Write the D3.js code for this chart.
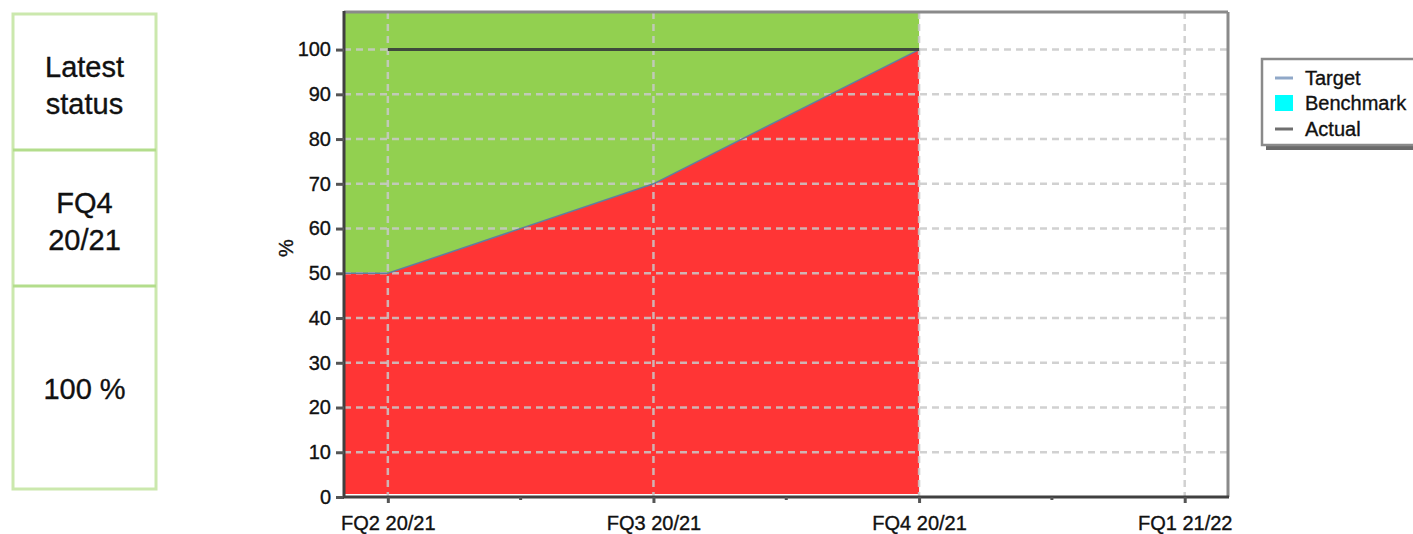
<!DOCTYPE html>
<html>
<head>
<meta charset="utf-8">
<script src="https://cdn.jsdelivr.net/npm/d3@7"></script>
<style>
  html, body { margin: 0; padding: 0; background: #fff; }
  svg { display: block; }
  text { font-family: "Liberation Sans", Arial, sans-serif; fill: #111; stroke: #111; stroke-width: 0.35px; }
</style>
</head>
<body>
<svg id="chart" width="1413" height="534"></svg>
<script>
// ---- data ----
const categories = ["FQ2 20/21", "FQ3 20/21", "FQ4 20/21", "FQ1 21/22"];
const targetValues = [50, 70, 100];      // Target (red area boundary)
const actualValues = [100, 100, 100];    // Actual
const yTickValues = [0, 10, 20, 30, 40, 50, 60, 70, 80, 90, 100];
const statusLines1 = ["Latest", "status"];
const statusLines2 = ["FQ4", "20/21"];
const statusLines3 = ["100 %"];
const legendItems = ["Target", "Benchmark", "Actual"];

// ---- layout ----
const svg = d3.select("#chart");
const plot = { left: 344, right: 1228, top: 12, bottom: 497 };

const x = d3.scaleLinear()
  .domain([-0.165, categories.length - 1 + 0.163])
  .range([plot.left, plot.right]);
const y = d3.scaleLinear()
  .domain([0, 108.4])
  .range([plot.bottom, plot.top]);

const xMin = x.domain()[0];

// ---- status boxes on the left ----
const box = svg.append("g");
box.append("rect").attr("x", 13).attr("y", 14).attr("width", 143).attr("height", 475)
  .attr("fill", "#fff").attr("stroke", "#cbe8ad").attr("stroke-width", 3);
box.append("line").attr("x1", 13).attr("x2", 156).attr("y1", 150).attr("y2", 150)
  .attr("stroke", "#b3dd8c").attr("stroke-width", 3);
box.append("line").attr("x1", 13).attr("x2", 156).attr("y1", 286).attr("y2", 286)
  .attr("stroke", "#b3dd8c").attr("stroke-width", 3);
function boxText(lines, cy) {
  const lh = 37;
  lines.forEach((t, i) => {
    box.append("text")
      .attr("x", 84.5)
      .attr("y", cy + (i - (lines.length - 1) / 2) * lh)
      .attr("dy", "0.35em")
      .attr("text-anchor", "middle")
      .style("font-size", "29px")
      .text(t);
  });
}
boxText(statusLines1, 85);
boxText(statusLines2, 221);
boxText(statusLines3, 389);

// ---- areas ----
const targetPts = [{ i: xMin, v: targetValues[0] }].concat(targetValues.map((v, i) => ({ i, v })));

svg.append("path")
  .datum(targetPts)
  .attr("fill", "#92d050")
  .attr("d", d3.area().x(d => x(d.i)).y0(y(y.domain()[1])).y1(d => y(d.v)));

svg.append("path")
  .datum(targetPts)
  .attr("fill", "#ff3535")
  .attr("d", d3.area().x(d => x(d.i)).y0(y(0) - 3).y1(d => y(d.v)));

// ---- grid ----
const grid = svg.append("g")
  .attr("stroke", "#c9c9c9").attr("stroke-opacity", 0.85)
  .attr("stroke-width", 2.5).attr("stroke-dasharray", "7,5");
grid.selectAll("line.h").data(yTickValues.slice(1)).join("line")
  .attr("x1", plot.left).attr("x2", plot.right)
  .attr("y1", d => y(d)).attr("y2", d => y(d));
grid.selectAll("line.v").data(categories.map((c, i) => i)).join("line")
  .attr("y1", plot.top).attr("y2", plot.bottom)
  .attr("x1", d => x(d)).attr("x2", d => x(d));

// ---- target line ----
svg.append("path")
  .datum(targetPts)
  .attr("fill", "none")
  .attr("stroke", "#5f7f9f")
  .attr("stroke-width", 1.5)
  .attr("d", d3.line().x(d => x(d.i)).y(d => y(d.v)));

// ---- actual line ----
svg.append("path")
  .datum(actualValues.map((v, i) => ({ i, v })))
  .attr("fill", "none")
  .attr("stroke", "#3f4a3c")
  .attr("stroke-width", 3)
  .attr("d", d3.line().x(d => x(d.i)).y(d => y(d.v)));

// ---- frame ----
svg.append("line").attr("x1", plot.left).attr("x2", plot.right)
  .attr("y1", plot.top).attr("y2", plot.top)
  .attr("stroke", "#8a8a8a").attr("stroke-width", 3);
svg.append("line").attr("x1", plot.right).attr("x2", plot.right)
  .attr("y1", plot.top).attr("y2", plot.bottom)
  .attr("stroke", "#8a8a8a").attr("stroke-width", 3);

// ---- axes ----
const yAxis = svg.append("g")
  .attr("transform", `translate(${plot.left},0)`)
  .call(d3.axisLeft(y).tickValues(yTickValues).tickSize(8).tickPadding(5).tickFormat(d3.format("d")));
yAxis.select(".domain").attr("stroke", "#404040").attr("stroke-width", 3)
  .attr("d", `M0,${plot.top - 1}V${plot.bottom + 1}`);
yAxis.selectAll(".tick line").attr("stroke", "#555").attr("stroke-width", 3);
yAxis.selectAll(".tick text").style("font-size", "20px").attr("fill", "#111");

const xAxis = svg.append("g")
  .attr("transform", `translate(0,${plot.bottom})`)
  .call(d3.axisBottom(x).tickValues(categories.map((c, i) => i)).tickSize(6).tickPadding(13)
    .tickFormat(i => categories[i]));
xAxis.select(".domain").attr("stroke", "#404040").attr("stroke-width", 3)
  .attr("d", `M${plot.left - 1},0H${plot.right + 1}`);
xAxis.selectAll(".tick line").attr("stroke", "#555").attr("stroke-width", 3);
xAxis.selectAll(".tick text").style("font-size", "20px").attr("fill", "#111");

// minor ticks at midpoints
svg.append("g").selectAll("line").data(d3.range(categories.length - 1).map(i => i + 0.5)).join("line")
  .attr("x1", d => x(d)).attr("x2", d => x(d))
  .attr("y1", plot.bottom).attr("y2", plot.bottom + 3)
  .attr("stroke", "#555").attr("stroke-width", 3);

// y axis title
svg.append("text")
  .attr("transform", `translate(293,248) rotate(-90)`)
  .attr("text-anchor", "middle")
  .style("font-size", "20px")
  .text("%");

// ---- legend ----
const lg = svg.append("g");
lg.append("rect").attr("x", 1266).attr("y", 63).attr("width", 160).attr("height", 87)
  .attr("fill", "#6a6a6a");
lg.append("rect").attr("x", 1262).attr("y", 59).attr("width", 160).attr("height", 86)
  .attr("fill", "#fff").attr("stroke", "#8a8a8a").attr("stroke-width", 2.5);
const legY = [78, 103, 129];
legendItems.forEach((name, i) => {
  const cy = legY[i];
  if (name === "Benchmark") {
    lg.append("rect").attr("x", 1275).attr("y", cy - 8).attr("width", 18).attr("height", 16)
      .attr("fill", "#00ffff");
  } else {
    lg.append("line").attr("x1", 1275).attr("x2", 1293).attr("y1", cy).attr("y2", cy)
      .attr("stroke", name === "Target" ? "#90a8c8" : "#6f6f6f").attr("stroke-width", 3);
  }
  lg.append("text").attr("x", 1305).attr("y", cy).attr("dy", "0.35em")
    .style("font-size", "20px").text(name);
});
</script>
</body>
</html>
